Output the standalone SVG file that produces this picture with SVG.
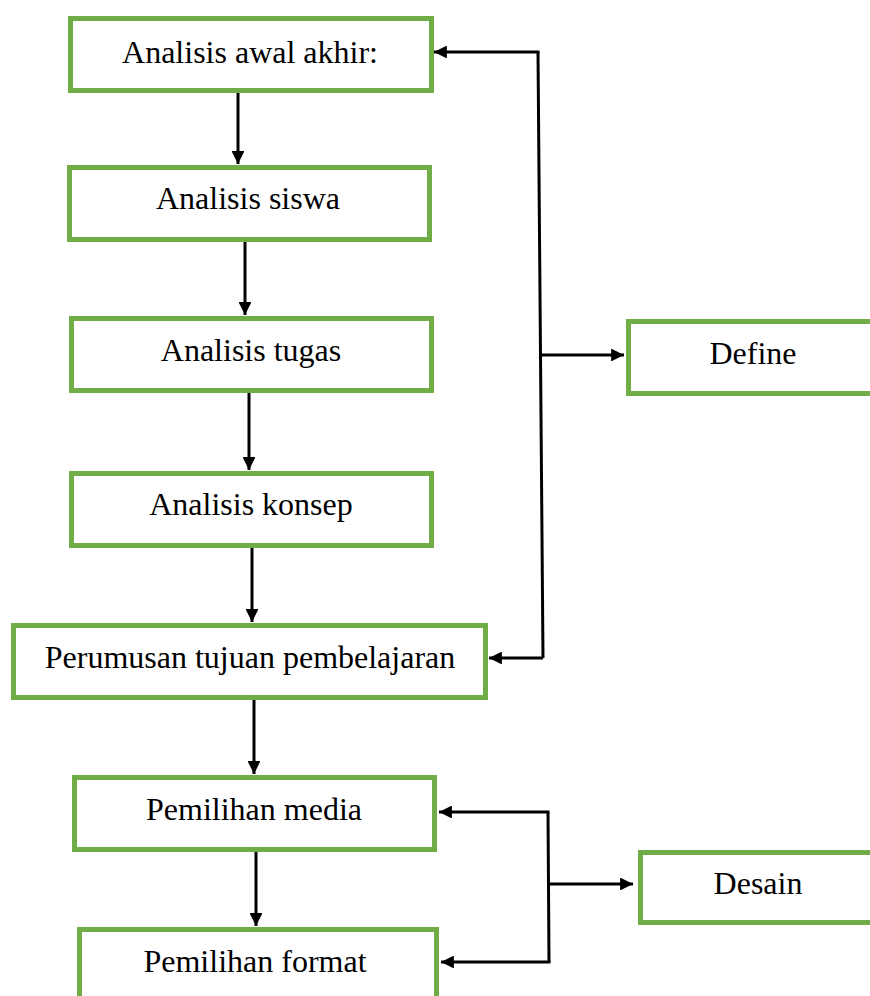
<svg xmlns="http://www.w3.org/2000/svg" width="870" height="996" viewBox="0 0 870 996">
<style>
.box{fill:#fff;stroke:#70AD47;stroke-width:5}
.lbl{font-family:'Liberation Serif','Times New Roman',serif;font-size:32px;fill:#000;text-anchor:middle}
.ln{stroke:#000;stroke-width:3;fill:none}
.arr{stroke:#000;stroke-width:3;fill:none;marker-end:url(#ah)}
</style>
<defs>
<marker id="ah" viewBox="0 0 10 10" refX="10" refY="5" markerWidth="5" markerHeight="4.3" orient="auto" markerUnits="strokeWidth">
<path d="M0,0 L10,5 L0,10 z" fill="#000"/>
</marker>
</defs>
<rect width="870" height="996" fill="#fff"/>
<g id="n1"><rect class="box" x="70.5" y="18.5" width="361" height="72"/><text class="lbl" x="250" y="63">Analisis awal akhir:</text></g>
<g id="n2"><rect class="box" x="69.5" y="167.5" width="360" height="72"/><text class="lbl" x="248" y="209">Analisis siswa</text></g>
<g id="n3"><rect class="box" x="71.5" y="318.5" width="360" height="72"/><text class="lbl" x="251" y="361">Analisis tugas</text></g>
<g id="n4"><rect class="box" x="71.5" y="473.5" width="360" height="72"/><text class="lbl" x="251" y="515">Analisis konsep</text></g>
<g id="n5"><rect class="box" x="13.5" y="625.5" width="472" height="72"/><text class="lbl" x="250" y="668">Perumusan tujuan pembelajaran</text></g>
<g id="n6"><rect class="box" x="74.5" y="777.5" width="360" height="72"/><text class="lbl" x="254" y="820">Pemilihan media</text></g>
<g id="n7"><rect class="box" x="79.5" y="929.5" width="357" height="80"/><text class="lbl" x="255" y="972">Pemilihan format</text></g>
<g id="define"><rect class="box" x="628.5" y="321.5" width="260" height="72"/><text class="lbl" x="753" y="364">Define</text></g>
<g id="desain"><rect class="box" x="640.5" y="852.5" width="250" height="70"/><text class="lbl" x="758" y="894">Desain</text></g>
<g id="connectors">
<line class="arr" x1="238" y1="93" x2="238" y2="164"/>
<line class="arr" x1="245" y1="242" x2="245" y2="315"/>
<line class="arr" x1="249" y1="393" x2="249" y2="470"/>
<line class="arr" x1="252" y1="548" x2="252" y2="622"/>
<line class="arr" x1="254" y1="700" x2="254" y2="774"/>
<line class="arr" x1="256" y1="852" x2="256" y2="926"/>
<polyline class="ln" points="538,52 543,658"/>
<polyline class="arr" points="539.5,52 434,52"/>
<polyline class="arr" points="543,658 489,658"/>
<line class="arr" x1="541" y1="355" x2="624" y2="355"/>
<polyline class="ln" points="548,812 549,962"/>
<polyline class="arr" points="549.5,812 439,812"/>
<polyline class="arr" points="550.5,962 441,962"/>
<line class="arr" x1="549" y1="884" x2="633" y2="884"/>
</g>
</svg>
